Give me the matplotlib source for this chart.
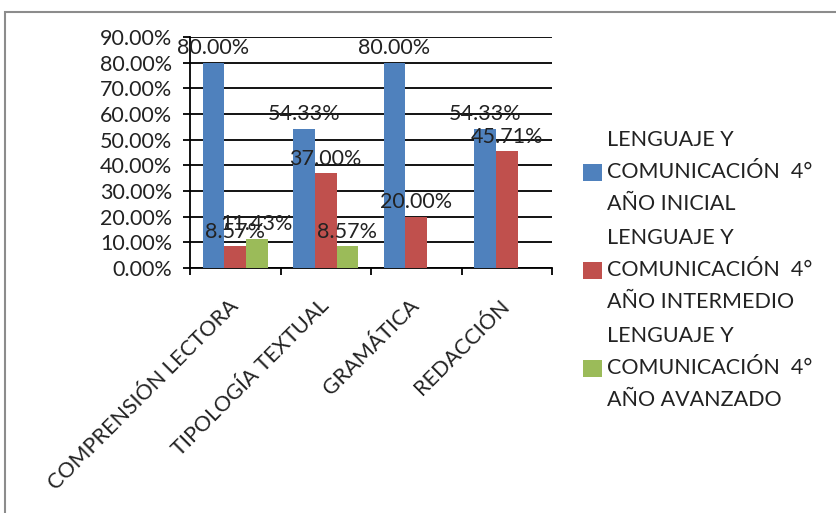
"""
Bar chart: Lenguaje y Comunicación 4° año, results by skill area.
"""
import numpy as np
import matplotlib.pyplot as plt
from matplotlib.patches import Rectangle, Patch
from matplotlib.ticker import FixedLocator

plt.rcParams['font.family'] = ['Lato', 'DejaVu Sans']

# data
categories = ["COMPRENSIÓN LECTORA", "TIPOLOGÍA TEXTUAL", "GRAMÁTICA", "REDACCIÓN"]
series_names = [
    "LENGUAJE Y\nCOMUNICACIÓN  4°\nAÑO INICIAL",
    "LENGUAJE Y\nCOMUNICACIÓN  4°\nAÑO INTERMEDIO",
    "LENGUAJE Y\nCOMUNICACIÓN  4°\nAÑO AVANZADO",
]
inicial = [80.00, 54.33, 80.00, 54.33]
intermedio = [8.57, 37.00, 20.00, 45.71]
avanzado = [11.43, 8.57, None, None]
y_ticks = [0, 10, 20, 30, 40, 50, 60, 70, 80, 90]

colors = ['#4F81BD', '#C0504D', '#9BBB59']
FS = 15.5

fig = plt.figure(figsize=(8.36, 5.13), dpi=100)
ax = fig.add_axes([190 / 836, 1 - 268 / 513, 362 / 836, 231 / 513])

x = np.arange(len(categories))
width = 0.24
all_series = [inicial, intermedio, avanzado]

for i, (vals, col) in enumerate(zip(all_series, colors)):
    heights = np.array([np.nan if v is None else v for v in vals], dtype=float)
    pos = x + (i - 1) * width
    ax.bar(pos, np.nan_to_num(heights), width=width, color=col, zorder=3)
    for px, h in zip(pos, heights):
        if np.isnan(h):
            continue
        ax.annotate(f"{h:.2f}%", (px, h), xytext=(0, 3), textcoords='offset points',
                    ha='center', va='bottom', fontsize=FS, color='#222222', zorder=5)

ax.set_xlim(-0.5, len(categories) - 0.5)
ax.set_ylim(0, 90)
ax.set_yticks(y_ticks)
ax.set_yticklabels([f"{v:.2f}%" for v in y_ticks], fontsize=FS, color='#222222')
ax.yaxis.grid(True, color='black', linewidth=1.3, zorder=0)
ax.set_axisbelow(True)

ax.set_xticks(x)
ax.set_xticklabels(categories, rotation=45, ha='right', va='center',
                   rotation_mode='anchor', fontsize=FS, color='#222222')
ax.xaxis.set_minor_locator(FixedLocator(np.arange(len(categories) + 1) - 0.5))
ax.tick_params(axis='x', which='major', length=0, pad=25)
ax.tick_params(axis='x', which='minor', length=5, width=1.3, direction='out')
ax.tick_params(axis='y', length=5, width=1.3, direction='out', pad=8)

for side in ['top', 'right']:
    ax.spines[side].set_visible(False)
for side in ['left', 'bottom']:
    ax.spines[side].set_linewidth(1.3)
    ax.spines[side].set_color('black')

handles = [Patch(facecolor=c) for c in colors]
leg = fig.legend(handles, series_names, loc='upper left',
                 bbox_to_anchor=(574 / 836, 1 - 121 / 513), frameon=False,
                 fontsize=FS, handlelength=0.9, handleheight=0.9,
                 handletextpad=0.25, labelspacing=0.62, borderaxespad=0)
for t in leg.get_texts():
    t.set_linespacing(1.77)
    t.set_color('#222222')

# outer chart border
fig.add_artist(Rectangle((5 / 836, -0.05), 1.2, 1 - 12 / 513 + 0.05,
                         transform=fig.transFigure, fill=False,
                         edgecolor='#8c8c8c', linewidth=1.5))

fig.savefig('out.png', dpi=100)
